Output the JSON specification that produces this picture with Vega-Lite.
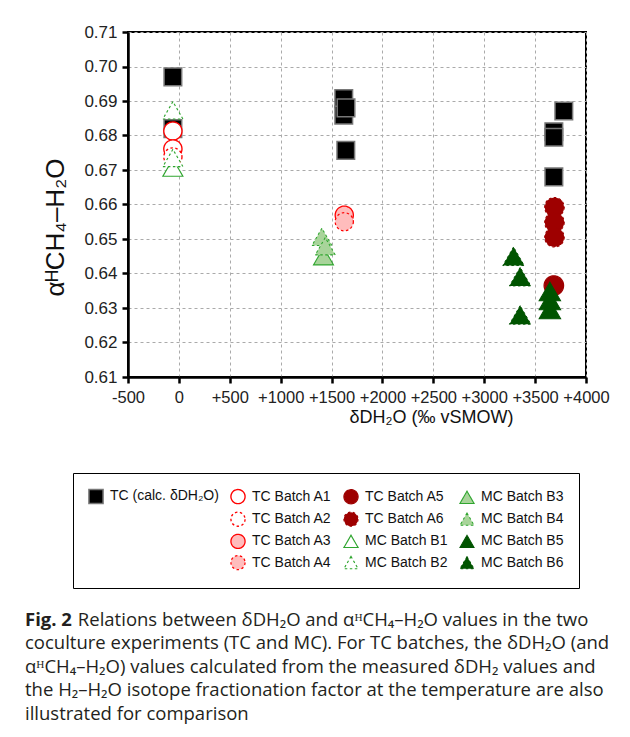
{
  "$schema": "https://vega.github.io/schema/vega-lite/v6.json",
  "width": 458,
  "height": 345,
  "autosize": {"type": "none"},
  "padding": {"left": 128, "top": 32, "right": 44, "bottom": 360},
  "background": "white",
  "config": {
    "font": "Liberation Sans",
    "view": {"stroke": "black", "strokeWidth": 2},
    "axis": {
      "domainColor": "black", "domainWidth": 2.5,
      "tickColor": "black", "tickWidth": 2.5, "tickSize": 6,
      "gridColor": "#aaaaaa", "gridDash": [3, 3], "gridWidth": 1,
      "labelColor": "#222222", "labelFont": "Liberation Sans",
      "titleFont": "Liberation Sans", "titleFontWeight": "normal", "titleColor": "#111111"
    }
  },
  "title": {
    "text": "Fig. 2",
    "subtitle": [
      "\u200d\u00a0\u00a0\u00a0\u00a0\u00a0\u00a0\u00a0\u00a0\u00a0\u00a0\u00a0Relations between δDH₂O and αᴴCH₄–H₂O values in the two",
      "coculture experiments (TC and MC). For TC batches, the δDH₂O (and",
      "αᴴCH₄–H₂O) values calculated from the measured δDH₂ values and",
      "the H₂–H₂O isotope fractionation factor at the temperature are also",
      "illustrated for comparison"
    ],
    "orient": "bottom",
    "anchor": "start",
    "frame": "group",
    "offset": 22,
    "dx": -103,
    "font": "Open Sans",
    "fontSize": 18.5,
    "fontWeight": "bold",
    "color": "#231f20",
    "subtitleFont": "Open Sans",
    "subtitleFontSize": 18.5,
    "subtitleColor": "#231f20",
    "subtitleLineHeight": 23.5,
    "subtitlePadding": -18.5
  },
  "data": {
    "values": [
      {"series": "TC (calc. δDH₂O)", "dD": -59, "alpha": 0.697},
      {"series": "TC (calc. δDH₂O)", "dD": -59, "alpha": 0.682},
      {"series": "TC (calc. δDH₂O)", "dD": 1620, "alpha": 0.6907},
      {"series": "TC (calc. δDH₂O)", "dD": 1620, "alpha": 0.6859},
      {"series": "TC (calc. δDH₂O)", "dD": 1642, "alpha": 0.688},
      {"series": "TC (calc. δDH₂O)", "dD": 1640, "alpha": 0.6757},
      {"series": "TC (calc. δDH₂O)", "dD": 3782, "alpha": 0.6871},
      {"series": "TC (calc. δDH₂O)", "dD": 3684, "alpha": 0.6811},
      {"series": "TC (calc. δDH₂O)", "dD": 3684, "alpha": 0.6795},
      {"series": "TC (calc. δDH₂O)", "dD": 3684, "alpha": 0.668},
      {"series": "TC Batch A1", "dD": -59, "alpha": 0.6813},
      {"series": "TC Batch A1", "dD": -59, "alpha": 0.6761},
      {"series": "TC Batch A2", "dD": -59, "alpha": 0.6738},
      {"series": "TC Batch A3", "dD": 1625, "alpha": 0.6569},
      {"series": "TC Batch A4", "dD": 1625, "alpha": 0.655},
      {"series": "TC Batch A5", "dD": 3684, "alpha": 0.6365},
      {"series": "TC Batch A6", "dD": 3690, "alpha": 0.6592},
      {"series": "TC Batch A6", "dD": 3690, "alpha": 0.6548},
      {"series": "TC Batch A6", "dD": 3690, "alpha": 0.6505},
      {"series": "MC Batch B1", "dD": -59, "alpha": 0.6707},
      {"series": "MC Batch B2", "dD": -59, "alpha": 0.6873},
      {"series": "MC Batch B2", "dD": -59, "alpha": 0.6735},
      {"series": "MC Batch B3", "dD": 1421, "alpha": 0.645},
      {"series": "MC Batch B4", "dD": 1405, "alpha": 0.6506},
      {"series": "MC Batch B4", "dD": 1438, "alpha": 0.6479},
      {"series": "MC Batch B5", "dD": 3645, "alpha": 0.6348},
      {"series": "MC Batch B5", "dD": 3645, "alpha": 0.6322},
      {"series": "MC Batch B5", "dD": 3645, "alpha": 0.6296},
      {"series": "MC Batch B6", "dD": 3288, "alpha": 0.645},
      {"series": "MC Batch B6", "dD": 3353, "alpha": 0.6391},
      {"series": "MC Batch B6", "dD": 3353, "alpha": 0.628}
    ]
  },
  "encoding": {
    "x": {
      "field": "dD", "type": "quantitative",
      "scale": {"domain": [-500, 4000], "nice": false, "zero": false},
      "axis": {
        "values": [-500, 0, 500, 1000, 1500, 2000, 2500, 3000, 3500, 4000],
        "labelExpr": "datum.value > 0 ? '+' + datum.value : '' + datum.value",
        "labelFontSize": 16.5, "labelPadding": 6, "labelOverlap": false, "labelFlush": false,
        "title": "δDH₂O (‰ vSMOW)", "titleFontSize": 18,
        "titleX": 303, "titleY": 40, "titleAlign": "center", "titleBaseline": "middle"
      }
    },
    "y": {
      "field": "alpha", "type": "quantitative",
      "scale": {"domain": [0.61, 0.71], "nice": false, "zero": false},
      "axis": {
        "values": [0.61, 0.62, 0.63, 0.64, 0.65, 0.66, 0.67, 0.68, 0.69, 0.70, 0.71],
        "format": ".2f", "labelFontSize": 17, "labelPadding": 5, "labelOverlap": false, "labelFlush": false,
        "title": "αᴴCH₄–H₂O", "titleFontSize": 26,
        "titleX": -73, "titleY": 195, "titleAngle": -90, "titleAlign": "center", "titleBaseline": "middle"
      }
    },
    "shape": {
      "field": "series", "type": "nominal",
      "scale": {
        "domain": ["TC (calc. δDH₂O)", "blank1", "blank2", "blank3", "TC Batch A1", "TC Batch A2", "TC Batch A3", "TC Batch A4", "TC Batch A5", "TC Batch A6", "MC Batch B1", "MC Batch B2", "MC Batch B3", "MC Batch B4", "MC Batch B5", "MC Batch B6"],
        "range": ["square", "circle", "circle", "circle", "circle", "circle", "circle", "circle", "circle", "circle", "triangle-up", "triangle-up", "triangle-up", "triangle-up", "triangle-up", "triangle-up"]
      },
      "legend": {
        "title": null, "orient": "none", "legendX": -55, "legendY": 441,
        "columns": 4, "padding": 15, "strokeColor": "black",
        "labelFont": "Liberation Sans", "labelFontSize": 14, "labelColor": "#111111", "labelLimit": 300,
        "symbolSize": 200, "columnPadding": 9, "rowPadding": 1.2, "labelOffset": 6,
        "labelExpr": "indexof(datum.label, 'blank') === 0 ? '' : datum.label"
      }
    },
    "fill": {
      "field": "series", "type": "nominal",
      "scale": {
        "domain": ["TC (calc. δDH₂O)", "blank1", "blank2", "blank3", "TC Batch A1", "TC Batch A2", "TC Batch A3", "TC Batch A4", "TC Batch A5", "TC Batch A6", "MC Batch B1", "MC Batch B2", "MC Batch B3", "MC Batch B4", "MC Batch B5", "MC Batch B6"],
        "range": ["#000000", "transparent", "transparent", "transparent", "#ffffff", "#ffffff", "#ffbcbc", "#ffbcbc", "#9e0000", "#9e0000", "#ffffff", "#ffffff", "#a8d49a", "#a8d49a", "#005400", "#005400"]
      }
    },
    "stroke": {
      "field": "series", "type": "nominal",
      "scale": {
        "domain": ["TC (calc. δDH₂O)", "blank1", "blank2", "blank3", "TC Batch A1", "TC Batch A2", "TC Batch A3", "TC Batch A4", "TC Batch A5", "TC Batch A6", "MC Batch B1", "MC Batch B2", "MC Batch B3", "MC Batch B4", "MC Batch B5", "MC Batch B6"],
        "range": ["#777777", "transparent", "transparent", "transparent", "#ff0000", "#ff0000", "#ff0000", "#ff0000", "#9e0000", "#9e0000", "#2ea52e", "#2ea52e", "#2ea52e", "#2ea52e", "#005400", "#005400"]
      }
    },
    "strokeDash": {
      "field": "series", "type": "nominal",
      "scale": {
        "domain": ["TC (calc. δDH₂O)", "blank1", "blank2", "blank3", "TC Batch A1", "TC Batch A2", "TC Batch A3", "TC Batch A4", "TC Batch A5", "TC Batch A6", "MC Batch B1", "MC Batch B2", "MC Batch B3", "MC Batch B4", "MC Batch B5", "MC Batch B6"],
        "range": [[1, 0], [1, 0], [1, 0], [1, 0], [1, 0], [2.5, 2.5], [1, 0], [2.5, 2.5], [1, 0], [2.5, 2.5], [1, 0], [2.5, 2.5], [1, 0], [2.5, 2.5], [1, 0], [2.5, 2.5]]
      }
    },
    "strokeWidth": {
      "field": "series", "type": "nominal",
      "scale": {
        "domain": ["TC (calc. δDH₂O)", "blank1", "blank2", "blank3", "TC Batch A1", "TC Batch A2", "TC Batch A3", "TC Batch A4", "TC Batch A5", "TC Batch A6", "MC Batch B1", "MC Batch B2", "MC Batch B3", "MC Batch B4", "MC Batch B5", "MC Batch B6"],
        "range": [1.5, 1, 1, 1, 3, 3, 3, 3, 2, 3, 2.8, 2.8, 2.8, 2.8, 2, 3]
      }
    }
  },
  "layer": [
    {
      "transform": [{"filter": {"field": "series", "oneOf": ["TC (calc. δDH₂O)"]}}],
      "mark": {"type": "point", "opacity": 1, "filled": false, "size": 310}
    },
    {
      "transform": [{"filter": {"field": "series", "oneOf": ["TC Batch A1", "TC Batch A2", "TC Batch A3", "TC Batch A4"]}}],
      "mark": {"type": "point", "opacity": 1, "filled": false, "size": 330}
    },
    {
      "transform": [{"filter": {"field": "series", "oneOf": ["TC Batch A5", "TC Batch A6"]}}],
      "mark": {"type": "point", "opacity": 1, "filled": false, "size": 380}
    },
    {
      "transform": [{"filter": {"field": "series", "oneOf": ["MC Batch B1", "MC Batch B2", "MC Batch B3", "MC Batch B4"]}}],
      "mark": {"type": "point", "opacity": 1, "filled": false, "size": 400}
    },
    {
      "transform": [{"filter": {"field": "series", "oneOf": ["MC Batch B5", "MC Batch B6"]}}],
      "mark": {"type": "point", "opacity": 1, "filled": false, "size": 460}
    }
  ]
}
